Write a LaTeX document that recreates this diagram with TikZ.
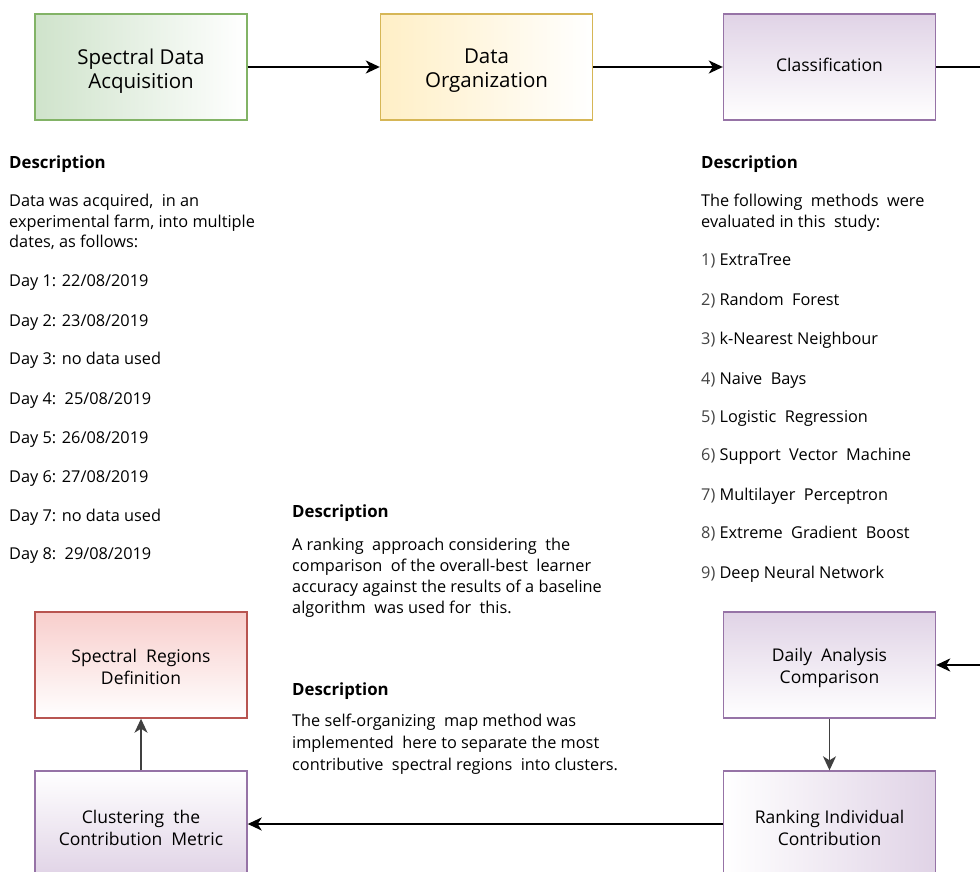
\documentclass[tikz,border=0pt]{standalone}
\usepackage{fontspec}
\setmainfont{Open Sans}
\usetikzlibrary{arrows.meta}
\definecolor{gbd}{HTML}{82B366}
\definecolor{gfl}{HTML}{CFE3CB}
\definecolor{ybd}{HTML}{D6B656}
\definecolor{yfl}{HTML}{FFEFC6}
\definecolor{pbd}{HTML}{9673A6}
\definecolor{pfl}{HTML}{E0D3E6}
\definecolor{rbd}{HTML}{B85450}
\definecolor{rfl}{HTML}{F8CECC}
\definecolor{numc}{HTML}{444444}
\begin{document}
\begin{tikzpicture}[x=1pt,y=-1pt,
  box/.style={line width=1.4pt, minimum width=212pt, minimum height=106pt, align=center, inner sep=0pt, font=\fontsize{17.5}{22}\selectfont},
  lbl/.style={inner sep=0pt, align=center, font=\fontsize{17.5}{22}\selectfont},
  biglbl/.style={lbl, font=\fontsize{20.5}{24}\selectfont},
  arr/.style={-{Stealth[length=14pt,width=13pt,inset=4pt]}, line width=2pt},
  garr/.style={-{Stealth[length=14pt,width=13pt,inset=4pt]}, line width=1.6pt, draw=black!75},
  hd/.style={anchor=base west, inner sep=0pt, font=\bfseries\fontsize{16.8}{20}\selectfont},
  txt/.style={anchor=base west, inner sep=0pt, font=\fontsize{16.3}{20}\selectfont}
]
\useasboundingbox (0,0) rectangle (980,872);
% boxes
\node[box, draw=gbd, left color=gfl, right color=white] (acq) at (141,67) {};
\node[box, draw=ybd, left color=yfl, right color=white] (org) at (486.5,67) {};
\node[box, draw=pbd, top color=pfl, bottom color=white] (cls) at (829.5,67) {};
\node[box, draw=pbd, top color=pfl, bottom color=white] (daily) at (829.5,665) {};
\node[box, draw=pbd, left color=white, right color=pfl] (rank) at (829.5,824) {};
\node[box, draw=pbd, top color=white, bottom color=pfl] (clu) at (141,824) {};
\node[box, draw=rbd, top color=rfl, bottom color=white] (reg) at (141,665) {};
% box labels
\node[biglbl] (acqt) at (141,71) {Spectral Data\\Acquisition};
\node[biglbl] (orgt) at (486.5,71) {Data\\Organization};
\node[lbl] (clst) at (829.5,65) {Classification};
\node[lbl] (dailyt) at (829.5,667.5) {Daily\ \ Analysis\\Comparison};
\node[lbl] (rankt) at (829.5,828) {Ranking Individual\\Contribution};
\node[lbl] (clut) at (141,828) {Clustering\ \ the\\Contribution\ \ Metric};
\node[lbl] (regt) at (141,667) {Spectral\ \ Regions\\Definition};
\coordinate (e1) at (980,67);
\coordinate (e2) at (980,665);
% connectors
\draw[arr] (acq) -- (org);
\draw[arr] (org) -- (cls);
\draw[line width=2pt] (cls) -- (e1);
\draw[arr] (e2) -- (daily);
\draw[garr] (daily) -- (rank);
\draw[arr] (rank) -- (clu);
\draw[garr] (clu) -- (reg);
% left description
\node[hd] (d1) at (9,168) {Description};
\node[txt] (d1a) at (9,206) {Data was acquired,\ \ in an};
\node[txt] (d1b) at (9,227) {experimental farm, into multiple};
\node[txt] (d1c) at (9,247) {dates,\ as follows:};
\node[txt] (day1) at (9,286) {Day 1: 22/08/2019};
\node[txt] (day2) at (9,326) {Day 2: 23/08/2019};
\node[txt] (day3) at (9,364) {Day 3: no data used};
\node[txt] (day4) at (9,404) {Day 4:\ \ 25/08/2019};
\node[txt] (day5) at (9,443) {Day 5: 26/08/2019};
\node[txt] (day6) at (9,482) {Day 6: 27/08/2019};
\node[txt] (day7) at (9,521) {Day 7: no data used};
\node[txt] (day8) at (9,559) {Day 8:\ \ 29/08/2019};
% right description
\node[hd] (d2) at (701,168) {Description};
\node[txt] (d2a) at (701,206) {The following\ \ methods\ \ were};
\node[txt] (d2b) at (701,227) {evaluated in this\ \ study:};
\node[txt] (m1) at (701,265) {\textcolor{numc}{1)} ExtraTree};
\node[txt] (m2) at (701,305) {\textcolor{numc}{2)} Random\ \ Forest};
\node[txt] (m3) at (701,344) {\textcolor{numc}{3)} k-Nearest Neighbour};
\node[txt] (m4) at (701,384) {\textcolor{numc}{4)} Naive\ \ Bays};
\node[txt] (m5) at (701,422) {\textcolor{numc}{5)} Logistic\ \ Regression};
\node[txt] (m6) at (701,460) {\textcolor{numc}{6)} Support\ \ Vector\ \ Machine};
\node[txt] (m7) at (701,500) {\textcolor{numc}{7)} Multilayer\ \ Perceptron};
\node[txt] (m8) at (701,538) {\textcolor{numc}{8)} Extreme\ \ Gradient\ \ Boost};
\node[txt] (m9) at (701,578) {\textcolor{numc}{9)} Deep Neural Network};
% middle descriptions
\node[hd] (d3) at (292,517) {Description};
\node[txt] (d3a) at (292,550) {A ranking\ \ approach considering\ \ the};
\node[txt] (d3b) at (292,571) {comparison\ \ of the overall-best\ \ learner};
\node[txt] (d3c) at (292,592) {accuracy against the results of a baseline};
\node[txt] (d3d) at (292,613) {algorithm\ \ was used for\ \ this.};
\node[hd] (d4) at (292,695) {Description};
\node[txt] (d4a) at (292,726) {The self-organizing\ \ map method was};
\node[txt] (d4b) at (292,748) {implemented\ \ here to separate the most};
\node[txt] (d4c) at (292,770) {contributive\ \ spectral regions\ \ into clusters.};
\end{tikzpicture}
\end{document}
